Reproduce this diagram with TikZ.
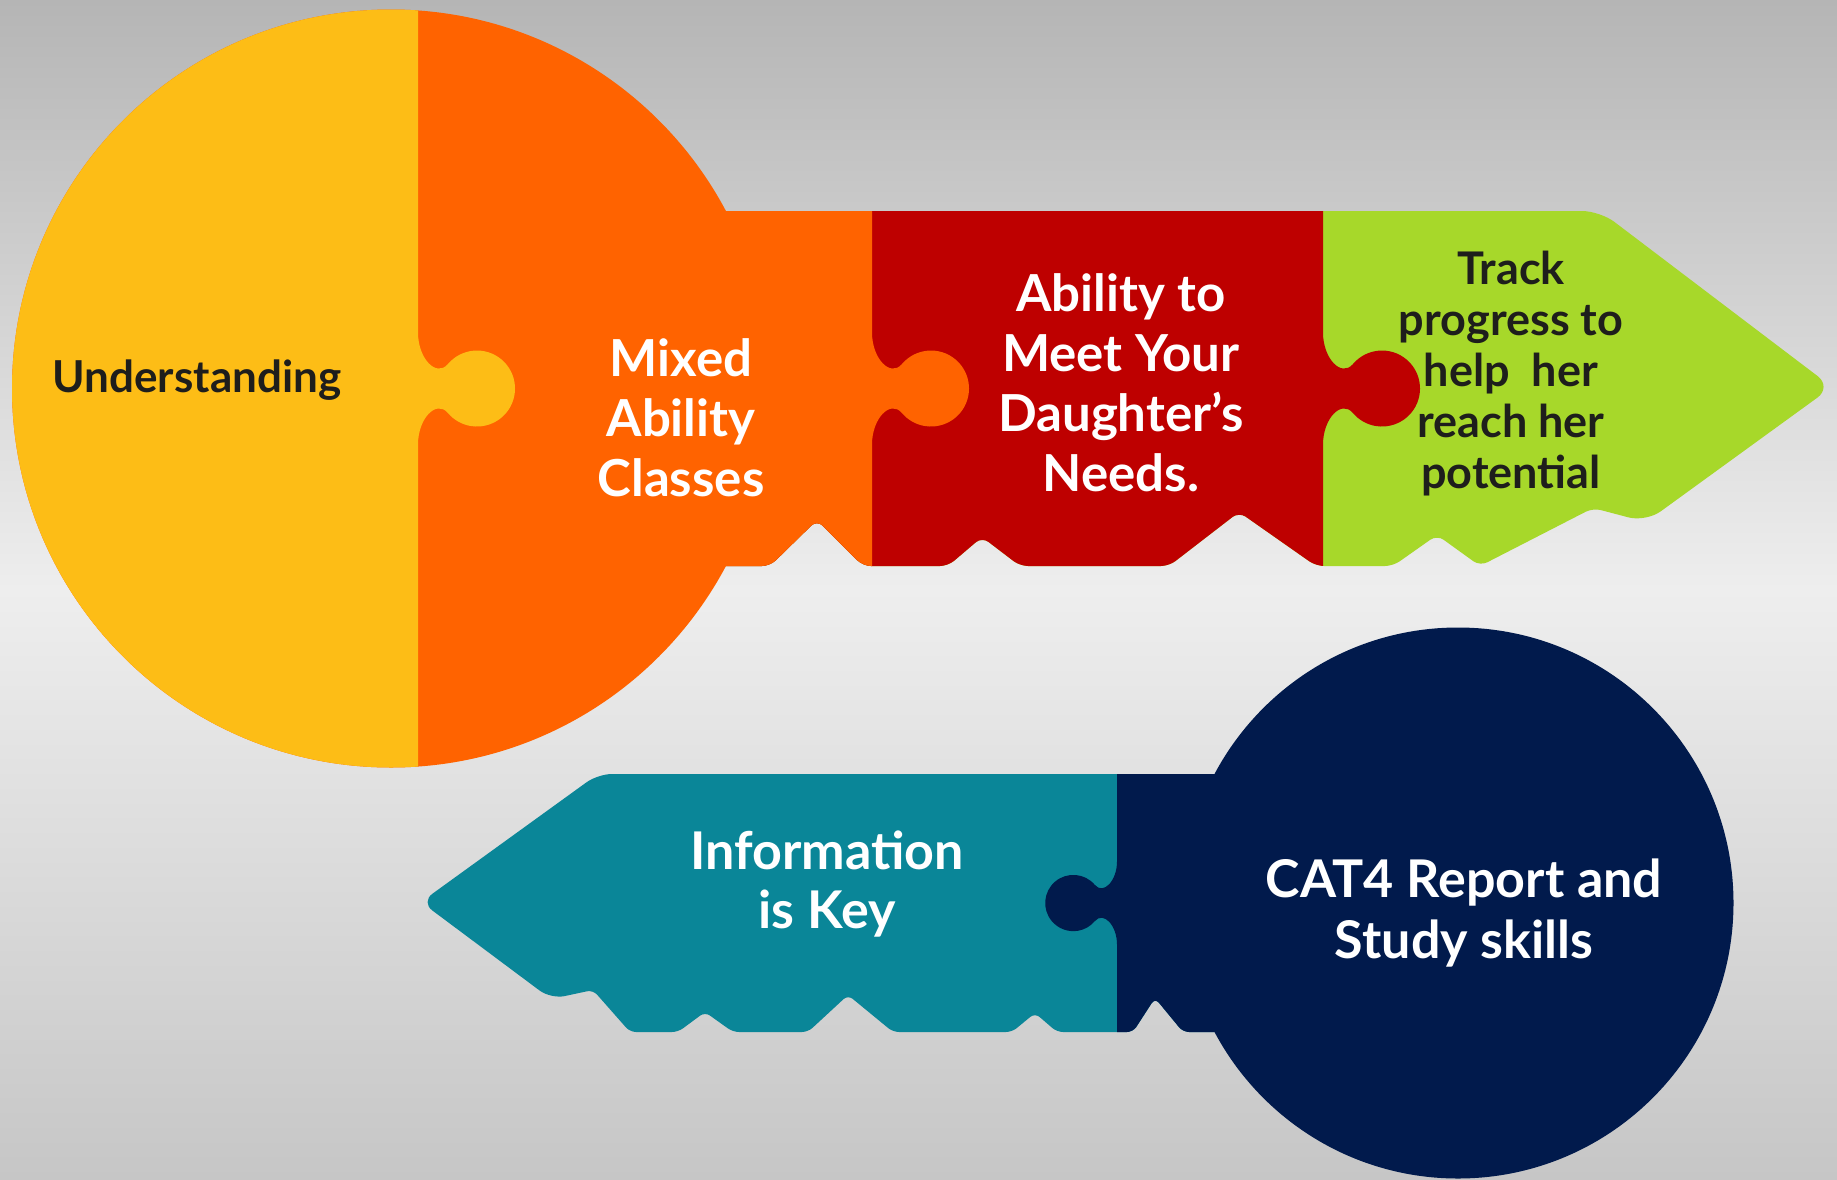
\documentclass[tikz,border=0pt]{standalone}
\usepackage{fontspec}
\setmainfont{Lato}
\definecolor{kyellow}{RGB}{253,189,22}
\definecolor{korange}{RGB}{255,99,0}
\definecolor{kred}{RGB}{190,0,0}
\definecolor{kgreen}{RGB}{167,216,42}
\definecolor{kteal}{RGB}{10,134,152}
\definecolor{knavy}{RGB}{1,26,76}
\definecolor{bgtop}{RGB}{181,181,181}
\definecolor{bgmid}{RGB}{238,238,238}
\definecolor{bgbot}{RGB}{198,198,198}
\definecolor{darktext}{RGB}{30,30,28}
\tikzset{
  topblade/.style={insert path={(700,211) [rounded corners=9pt] -- (1600,211) -- (1832,387) -- (1646,522) [rounded corners=4pt] -- (1593,508) -- (1480,566) -- (1437,535) -- (1393,566) -- (1316,566) -- (1239,512) -- (1169,566) -- (1020,566) -- (982,537) -- (948,566) -- (863,566) -- (817,520) -- (770,566) [sharp corners] -- (700,566) -- cycle}},
  botblade/.style={insert path={(1250,774) [rounded corners=7pt] -- (598,774) -- (421,902) -- (551,999) [rounded corners=3pt] -- (593,990) -- (630,1032) -- (678,1032) -- (705,1012) -- (733,1032) -- (808,1032) -- (848,995) -- (893,1032) -- (1012,1032) -- (1035,1013) -- (1057,1032) -- (1133,1032) -- (1155,998) -- (1183,1032) [sharp corners] -- (1250,1032) -- cycle}},
  knob/.style={insert path={(0,-1000) -- (0,-56) .. controls (0,-30) and (18.3,-10.8) .. (29.9,-24.4) arc[start angle=-140,end angle=140,radius=38] .. controls (18.3,10.8) and (0,30) .. (0,56) -- (0,1000) -- (-3000,1000) -- (-3000,-1000) -- cycle}},
  wtext/.style={text=white, align=center, inner sep=0pt},
  dtext/.style={text=darktext, align=center, inner sep=0pt}
}
\begin{document}
\begin{tikzpicture}[x=0.5pt,y=-0.5pt]
\useasboundingbox (0,0) rectangle (1837,1179);
\shade[top color=bgtop, bottom color=bgbot, middle color=bgmid] (0,0) rectangle (1837,1179);
% ---------- top key ----------
\fill[kgreen, topblade];
\begin{scope}
  \clip[shift={(1323,388.5)}, knob];
  \fill[kred, topblade];
\end{scope}
\begin{scope}
  \clip[shift={(872,388.5)}, knob];
  \fill[korange, topblade];
  \fill[korange] (391,388.5) circle[radius=379];
\end{scope}
\begin{scope}
  \clip[shift={(418,388.5)}, knob];
  \fill[kyellow] (391,388.5) circle[radius=379];
\end{scope}
% ---------- bottom key ----------
\fill[kteal, botblade];
\begin{scope}
  \clip[shift={(1117,903)}, xscale=-0.74, yscale=0.74, knob];
  \fill[knavy, botblade];
  \fill[knavy] (1458,903) circle[radius=275.5];
\end{scope}
% ---------- texts ----------
\node[dtext, font=\fontsize{22}{26}\selectfont\bfseries] (under) at (197,380) {Understanding};
\node[wtext, font=\fontsize{25.5}{30}\selectfont\bfseries] (mixed) at (681,418) {Mixed\\Ability\\Classes};
\node[wtext, font=\fontsize{25.5}{30}\selectfont\bfseries] (meet) at (1121,383) {Ability to\\Meet Your\\Daughter’s\\Needs.};
\node[dtext, font=\fontsize{22.5}{25.5}\selectfont\bfseries] (track) at (1511,374) {Track\\progress to\\help\ \ her\\reach her\\potential};
\node[wtext, font=\fontsize{26}{29.5}\selectfont\bfseries] (info) at (827,884) {Information\\is Key};
\node[wtext, font=\fontsize{26}{30.5}\selectfont\bfseries] (cat) at (1464,913) {CAT4 Report and\\Study skills};
\end{tikzpicture}
\end{document}
